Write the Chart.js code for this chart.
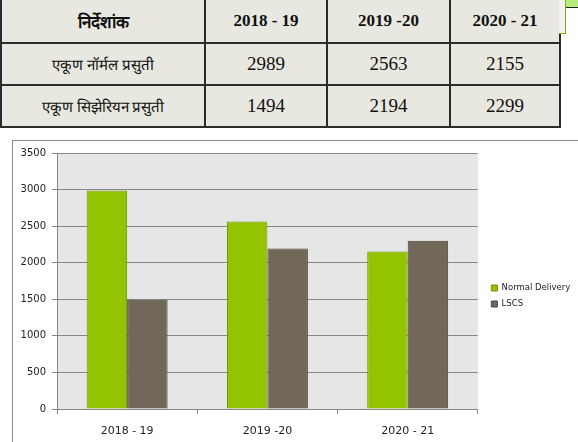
<!DOCTYPE html>
<html>
<head>
<meta charset="utf-8">
<script src="https://cdn.jsdelivr.net/npm/chart.js@4.4.1/dist/chart.umd.min.js"></script>
<style>
  body { margin: 0; background: #fff; width: 578px; height: 442px; overflow: hidden; position: relative; }
  #tbl { position: absolute; left: 0; top: -2px; border-collapse: collapse; table-layout: fixed; background: #e8e8e0;
         font-family: "Liberation Serif", "Times New Roman", serif; color: #111; }
  #tbl td { border: 2px solid #2b2b2b; text-align: center; padding: 0; height: 40px; }
  #tbl tr:first-child td { height: 42px; font-weight: bold; font-size: 17px; }
  #tbl td.lbl { font-size: 15px; }
  #tbl td.num { font-size: 19px; }
  #tbl td.hd { font-size: 23px; }
  #side { position: absolute; left: 559px; top: 0; width: 6px; height: 33px; background: #f0f0f0;
          border-right: 1px solid #7ab800; border-bottom: 1px solid #7ab800; }
  #sidetop { position: absolute; left: 566px; top: 0; width: 12px; height: 7px; background: #b6ec7c; border-bottom: 1px solid #222; }
  #box { position: absolute; left: 12px; top: 140px; width: 600px; height: 340px; border: 1px solid #898989; }
  #wrap { position: absolute; left: 0; top: 0; width: 565px; height: 310px; }
</style>
</head>
<body>
<table id="tbl">
  <colgroup><col style="width:204px"><col style="width:122px"><col style="width:123px"><col style="width:110px"></colgroup>
  <tr><td class="hd">निर्देशांक</td><td>2018 - 19</td><td>2019 -20</td><td>2020 - 21</td></tr>
  <tr><td class="lbl">एकूण नॉर्मल प्रसुती</td><td class="num">2989</td><td class="num">2563</td><td class="num">2155</td></tr>
  <tr><td class="lbl">एकूण सिझेरियन प्रसुती</td><td class="num">1494</td><td class="num">2194</td><td class="num">2299</td></tr>
</table>
<div id="side"></div>
<div id="sidetop"></div>
<div id="box"><div id="wrap"><canvas id="mycanvas"></canvas></div></div>
<script>
var years = ['2018 - 19', '2019 -20', '2020 - 21'];
var normalDelivery = [2989, 2563, 2155];
var lscs = [1494, 2194, 2299];
var yTicks = [0, 500, 1000, 1500, 2000, 2500, 3000, 3500];

var gridColor = '#878787';

// grey plot area behind the bars
var plotBg = {
	id: 'plotBg',
	beforeDraw: function(chart) {
		var a = chart.chartArea;
		var ctx = chart.ctx;
		ctx.save();
		ctx.fillStyle = '#e6e6e6';
		ctx.fillRect(a.left, a.top, a.right - a.left, a.bottom - a.top);
		ctx.restore();
	}
};

var chartdata = {
	labels: years,
	datasets: [
		{
			label: 'Normal Delivery',
			backgroundColor: '#94c400',
			borderColor: '#6a9600',
			borderWidth: 1,
			data: normalDelivery
		},
		{
			label: 'LSCS',
			backgroundColor: '#716859',
			borderColor: '#4b4439',
			borderWidth: 1,
			data: lscs
		}
	]
};

var ctx = document.getElementById('mycanvas');

var barGraph = new Chart(ctx, {
	type: 'bar',
	data: chartdata,
	plugins: [plotBg],
	options: {
		responsive: true,
		maintainAspectRatio: false,
		animation: false,
		devicePixelRatio: 1,
		layout: { padding: { top: 11, bottom: 11, left: 0, right: 0 } },
		categoryPercentage: 0.577,
		barPercentage: 1,
		plugins: {
			tooltip: { enabled: false },
			legend: {
				position: 'right',
				labels: {
					boxWidth: 6,
					boxHeight: 6,
					padding: 7.5,
					color: '#222',
					font: { family: 'DejaVu Sans', size: 8.5 }
				}
			}
		},
		scales: {
			x: {
				grid: { display: true, drawOnChartArea: false, drawTicks: true, tickLength: 5, offset: true, color: gridColor },
				border: { color: gridColor },
				ticks: { color: '#222', padding: 11, font: { family: 'DejaVu Sans', size: 11 } },
				afterFit: function(s) { s.height = 31; }
			},
			y: {
				min: 0,
				max: 3500,
				grid: { color: gridColor, tickLength: 5 },
				border: { color: gridColor },
				afterBuildTicks: function(s) { s.ticks = yTicks.map(function(v) { return { value: v }; }); },
				ticks: {
					color: '#222',
					padding: 6,
					font: { family: 'DejaVu Sans', size: 10 },
					callback: function(v) { return String(v); }
				},
				afterFit: function(s) { s.width = 44; }
			},
			spacer: {
				position: 'right',
				grid: { display: false },
				border: { display: false },
				ticks: { display: false },
				afterFit: function(s) { s.width = 6; }
			}
		}
	}
});
</script>
</body>
</html>
